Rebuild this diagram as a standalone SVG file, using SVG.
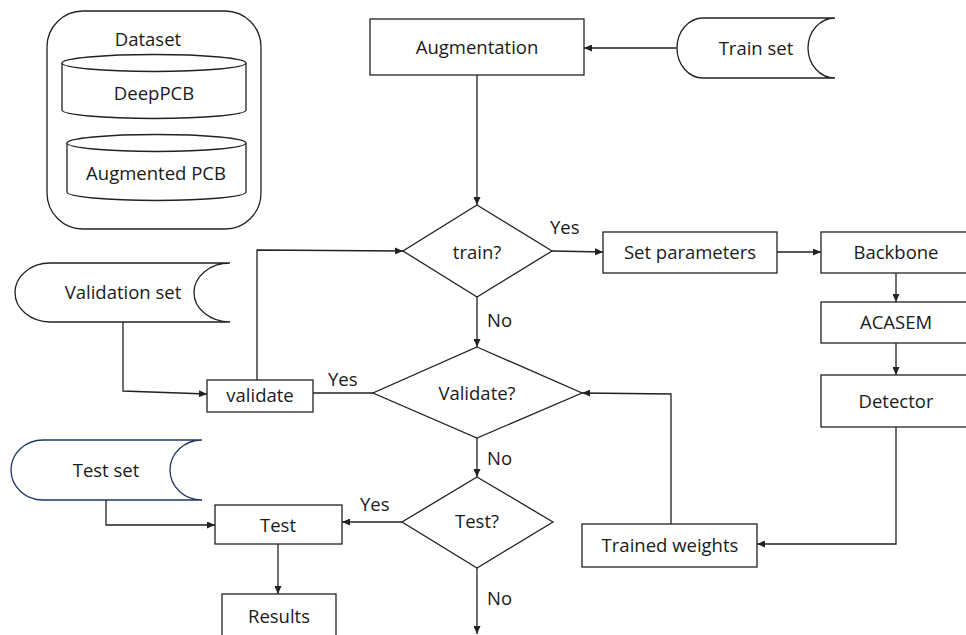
<svg xmlns="http://www.w3.org/2000/svg" width="966" height="635" viewBox="0 0 966 635">
<defs>
<style>
.s{fill:#fff;stroke:#222;stroke-width:1.3}
.b{fill:#fff;stroke:#1f3864;stroke-width:1.3}
.c{fill:none;stroke:#222;stroke-width:1.3}
text{font-family:"Open Sans","Liberation Sans",sans-serif;font-size:18.5px;fill:#1a1a1a}
.m{text-anchor:middle}
</style>
<marker id="ah" markerUnits="userSpaceOnUse" markerWidth="8" markerHeight="7" refX="8" refY="3.5" orient="auto">
<path d="M0,0 L8,3.5 L0,7 z" fill="#222"/>
</marker>
</defs>
<rect width="966" height="635" fill="#fff"/>

<g id="dataset">
<rect class="s" x="47" y="11" width="214" height="218" rx="36" ry="36"/>
<text class="m" x="148" y="46">Dataset</text>
</g>
<g id="deeppcb">
<path class="s" d="M62,63 L62,110 A92,8.5 0 0 0 246,110 L246,63"/>
<ellipse class="s" cx="154" cy="63" rx="92" ry="8.5"/>
<text class="m" x="154" y="100">DeepPCB</text>
</g>
<g id="augmentedpcb">
<path class="s" d="M67,143 L67,192 A89.5,8.5 0 0 0 246,192 L246,143"/>
<ellipse class="s" cx="156.5" cy="143" rx="89.5" ry="8.5"/>
<text class="m" x="156" y="180">Augmented PCB</text>
</g>

<g id="augmentation">
<rect class="s" x="370" y="19" width="214" height="56"/>
<text class="m" x="477" y="54">Augmentation</text>
</g>
<g id="trainset">
<path class="s" d="M835,18 L703,18 A26,30 0 0 0 703,78 L835,78 A27,30 0 0 1 835,18 z"/>
<text class="m" x="756" y="55">Train set</text>
</g>
<g id="train">
<path class="s" d="M477,205 L552,251 L477,297 L403,251 z"/>
<text class="m" x="477" y="259">train?</text>
</g>
<g id="setparameters">
<rect class="s" x="603" y="232" width="174" height="41"/>
<text class="m" x="690" y="259">Set parameters</text>
</g>
<g id="backbone">
<rect class="s" x="821" y="232" width="152" height="41"/>
<text class="m" x="896" y="259">Backbone</text>
</g>
<g id="acasem">
<rect class="s" x="821" y="302" width="152" height="41"/>
<text class="m" x="896" y="329">ACASEM</text>
</g>
<g id="detector">
<rect class="s" x="821" y="375" width="152" height="52"/>
<text class="m" x="896" y="408">Detector</text>
</g>
<g id="validationset">
<path class="s" d="M230,263 L50,263 A35,29.5 0 0 0 50,322 L230,322 A36,29.5 0 0 1 230,263 z"/>
<text class="m" x="123" y="299">Validation set</text>
</g>
<g id="validatebox">
<rect class="s" x="207" y="380" width="106" height="32"/>
<text class="m" x="260" y="402">validate</text>
</g>
<g id="validate">
<path class="s" d="M477,347 L582,393 L477,438 L373,393 z"/>
<text class="m" x="477" y="400">Validate?</text>
</g>
<g id="trainedweights">
<rect class="s" x="582" y="524" width="175" height="43"/>
<text class="m" x="670" y="552">Trained weights</text>
</g>
<g id="testset">
<path class="b" d="M202,440 L43,440 A32,30 0 0 0 43,500 L202,500 A32,30 0 0 1 202,440 z"/>
<text class="m" x="106" y="477">Test set</text>
</g>
<g id="testq">
<path class="s" d="M477,477 L553,522 L477,568 L402,522 z"/>
<text class="m" x="477" y="528">Test?</text>
</g>
<g id="test">
<rect class="s" x="215" y="505" width="127" height="39"/>
<text class="m" x="278" y="532">Test</text>
</g>
<g id="results">
<rect class="s" x="222" y="594" width="114" height="50"/>
<text class="m" x="279" y="623">Results</text>
</g>

<g id="connectors">
<path class="c" d="M677,48 L584,48" marker-end="url(#ah)"/>
<path class="c" d="M477,75 L477,205" marker-end="url(#ah)"/>
<path class="c" d="M552,251 L603,252" marker-end="url(#ah)"/>
<path class="c" d="M777,252 L821,252" marker-end="url(#ah)"/>
<path class="c" d="M896,273 L896,302" marker-end="url(#ah)"/>
<path class="c" d="M896,343 L896,375" marker-end="url(#ah)"/>
<path class="c" d="M896,427 L896,544 L757,544" marker-end="url(#ah)"/>
<path class="c" d="M671,524 L671,394 L582,393" marker-end="url(#ah)"/>
<path class="c" d="M477,297 L477,347" marker-end="url(#ah)"/>
<path class="c" d="M123,322 L123,391 L207,394" marker-end="url(#ah)"/>
<path class="c" d="M257,380 L257,250 L403,251" marker-end="url(#ah)"/>
<path class="c" d="M373,393 L313,393"/>
<path class="c" d="M477,438 L477,477" marker-end="url(#ah)"/>
<path class="c" d="M402,522 L342,522" marker-end="url(#ah)"/>
<path class="c" d="M106,500 L106,525 L215,525" marker-end="url(#ah)"/>
<path class="c" d="M278,544 L278,594" marker-end="url(#ah)"/>
<path class="c" d="M477,568 L477,634" marker-end="url(#ah)"/>
<text x="550" y="234">Yes</text>
<text x="487" y="327">No</text>
<text x="328" y="386">Yes</text>
<text x="487" y="465">No</text>
<text x="360" y="511">Yes</text>
<text x="487" y="605">No</text>
</g>
</svg>
